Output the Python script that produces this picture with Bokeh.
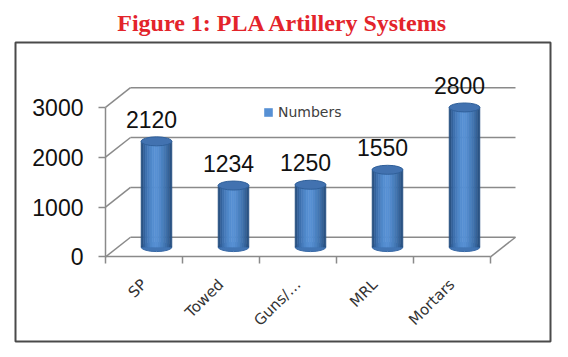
import math
from bokeh.plotting import figure
from bokeh.models import (Range1d, LinearAxis, FixedTicker, Legend, LegendItem,
                          ColumnDataSource)
from bokeh.core.properties import value
from bokeh.embed import file_html
from bokeh.resources import INLINE

# ---------------- data ----------------
categories = ["SP", "Towed", "Guns/…", "MRL", "Mortars"]
numbers = [2120, 1234, 1250, 1550, 2800]
y_ticks = [0, 1000, 2000, 3000]
series_name = "Numbers"
title_text = "Figure 1: PLA Artillery Systems"

# ---------------- geometry / style ----------------
PX_PER_CAT = 77.0          # pixels per category slot
PX_PER_VAL = 0.0507        # pixels per unit value
DEPTH_DX = 25.0 / PX_PER_CAT   # 3-D depth offset (data units)
DEPTH_DY = 20.0 / PX_PER_VAL
BAR_W = 0.40
N_STRIPS = 14
strip_colors = ["#2a5383", "#33629c", "#3d70ae", "#467cbd", "#4e86c8", "#548dd0",
                "#5790d4", "#568fd2", "#528acb", "#4b82c1", "#4479b6", "#3c6ea8",
                "#346298", "#2b5484"]
GRID_C = "#8a8a8a"

n = len(categories)
left_edge = -0.5
right_edge = n - 0.5

# frame covers the chart box (page px 15..550, 37..341); front origin at page (105,255)
x0 = left_edge + (15 - 105) / PX_PER_CAT
x1 = left_edge + (550 - 105) / PX_PER_CAT
y0 = -(341 - 255) / PX_PER_VAL
y1 = (255 - 37) / PX_PER_VAL

p = figure(width=560, height=349, x_range=Range1d(x0, x1), y_range=Range1d(y0, y1),
           x_axis_type=None, y_axis_type=None, toolbar_location=None,
           output_backend="svg", min_border_left=15, min_border_right=10,
           min_border_top=37, min_border_bottom=8,
           outline_line_color="#4a4a4a", outline_line_width=2,
           background_fill_color="white", border_fill_color="white")

p.title.text = title_text
p.title.align = "center"
p.title.text_font = "Liberation Serif"
p.title.text_font_style = "bold"
p.title.text_font_size = "24px"
p.title.text_color = "#e3242b"
p.title.standoff = 14

# ---------------- 3-D frame: back wall, side diagonals, floor ----------------
bx = [left_edge + DEPTH_DX] * len(y_ticks)
bx1 = [right_edge + DEPTH_DX] * len(y_ticks)
by = [t + DEPTH_DY for t in y_ticks]
p.segment(x0=bx, y0=by, x1=bx1, y1=by, line_color=GRID_C, line_width=1.5)
# diagonals from the front axis to the back wall
p.segment(x0=[left_edge] * len(y_ticks), y0=y_ticks, x1=bx, y1=by,
          line_color=GRID_C, line_width=1.5)
# right side of the floor
p.segment(x0=[right_edge], y0=[0], x1=[right_edge + DEPTH_DX], y1=[DEPTH_DY],
          line_color=GRID_C, line_width=1.5)

# ---------------- cylinders ----------------
base = 0.5 * DEPTH_DY
centers = [i + 0.5 * DEPTH_DX for i in range(n)]
tops = [v + base for v in numbers]

sw = BAR_W / N_STRIPS
xs, ws, bts, tps, cols = [], [], [], [], []
for c, t in zip(centers, tops):
    for k in range(N_STRIPS):
        xs.append(c - BAR_W / 2 + sw * (k + 0.5))
        ws.append(sw)
        bts.append(base)
        tps.append(t)
        cols.append(strip_colors[k])
strips = ColumnDataSource(dict(x=xs, w=ws, b=bts, t=tps, c=cols))

# bottom cap (visible lower half)
p.ellipse(x=centers, y=[base] * n, width=BAR_W, height=9, height_units="screen",
          fill_color="#4275b4", line_color="#3a6aa6")
bars = p.vbar(x="x", width="w", bottom="b", top="t", source=strips,
              fill_color="c", line_color="c", line_width=0.6)
# top cap
p.ellipse(x=centers, y=tops, width=BAR_W, height=9, height_units="screen",
          fill_color="#4272b0", line_color="#30609a", line_width=1)

# value labels
p.text(x=centers, y=tops, text=[str(v) for v in numbers], x_offset=-5, y_offset=-22,
       text_align="center", text_baseline="middle", text_font=value("Liberation Sans"),
       text_font_size="23px", text_color="#111111")

# ---------------- axes ----------------
yax = LinearAxis(fixed_location=left_edge, ticker=FixedTicker(ticks=y_ticks),
                 bounds=(min(y_ticks), max(y_ticks)))
yax.axis_line_color = GRID_C
yax.axis_line_width = 1.5
yax.major_tick_line_color = GRID_C
yax.major_tick_line_width = 1.5
yax.major_tick_out = 7
yax.major_tick_in = 0
yax.minor_tick_line_color = None
yax.major_label_standoff = 15
yax.major_label_text_font = "Liberation Sans"
yax.major_label_text_font_size = "23px"
yax.major_label_text_color = "#111111"
p.add_layout(yax, "left")

bounds_ticks = [i - 0.5 for i in range(n + 1)]
xax = LinearAxis(fixed_location=0, ticker=FixedTicker(ticks=bounds_ticks),
                 bounds=(left_edge, right_edge))
xax.axis_line_color = GRID_C
xax.axis_line_width = 1.5
xax.major_tick_line_color = GRID_C
xax.major_tick_line_width = 1.5
xax.major_tick_out = 7
xax.major_tick_in = 0
xax.minor_tick_line_color = None
xax.major_label_text_font_size = "0px"
xax.major_label_text_alpha = 0
p.add_layout(xax, "below")

lab = LinearAxis(fixed_location=0, ticker=FixedTicker(ticks=list(range(n))),
                 major_label_overrides={i: c for i, c in enumerate(categories)})
lab.axis_line_color = None
lab.major_tick_line_color = None
lab.minor_tick_line_color = None
lab.major_tick_out = 0
lab.major_label_standoff = 25
lab.major_label_orientation = math.pi / 4
lab.major_label_text_font = "DejaVu Sans"
lab.major_label_text_font_size = "15px"
lab.major_label_text_color = "#333333"
p.add_layout(lab, "below")

# ---------------- legend ----------------
legend = Legend(items=[LegendItem(label=series_name, renderers=[bars], index=6)],
                location=(248, 221), glyph_width=10, glyph_height=10, padding=0,
                margin=0, label_standoff=5, label_text_font="DejaVu Sans",
                label_text_font_size="14px", label_text_color="#404040",
                background_fill_alpha=0, border_line_alpha=0)
p.add_layout(legend)

open("out.html", "w").write(file_html(p, INLINE))
